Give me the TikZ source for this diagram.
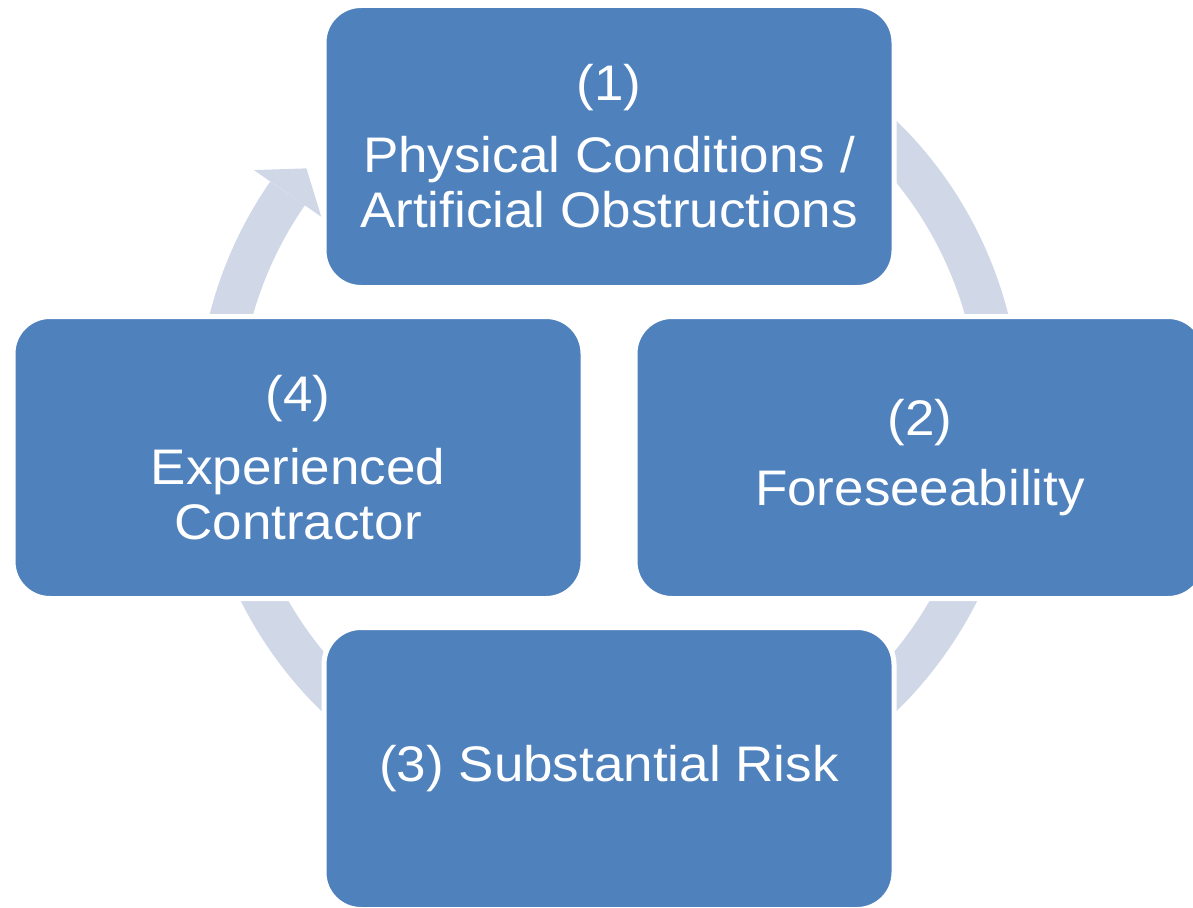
\documentclass[tikz,border=0pt]{standalone}
\usepackage{fontspec}
\setmainfont{Liberation Sans}[FakeStretch=1.06]

\definecolor{boxblue}{RGB}{79,129,189}
\definecolor{ringblue}{RGB}{208,216,232}

\begin{document}
\begin{tikzpicture}
 [stage node/.style={node distance=311pt, rectangle, rounded corners=37pt, fill=boxblue, draw=white, line width=5pt,
    minimum width=570pt, minimum height=282pt, align=center, text=white, font=\fontsize{50}{55}\selectfont},
  ring/.style={draw=ringblue, line width=42pt},
  ring head/.style={fill=ringblue}]

 \useasboundingbox (0,0) rectangle (1193pt,-907pt);

 \coordinate (c) at (609pt,-457.5pt);
 \coordinate (hub) at (609pt,-416pt);

 % circular arrow behind the boxes
 \draw[ring] ([shift={(145.3:391pt)}]hub) arc[start angle=145.3, end angle=470, radius=391pt];
 \fill[ring head] ([shift={(145.3:350pt)}]hub) -- ([shift={(145.3:432pt)}]hub) -- ([shift={(140.7:391pt)}]hub) -- cycle;

 \node[stage node] (1) [above of=c] {(1)\\[17pt]Physical Conditions /\\Artificial Obstructions};
 \node[stage node] (2) [right of=c] {(2)\\[15pt]Foreseeability};
 \node[stage node] (3) [below of=c] {(3) Substantial Risk};
 \node[stage node] (4) [left of=c] {(4)\\[18pt]Experienced\\Contractor};

\end{tikzpicture}
\end{document}
